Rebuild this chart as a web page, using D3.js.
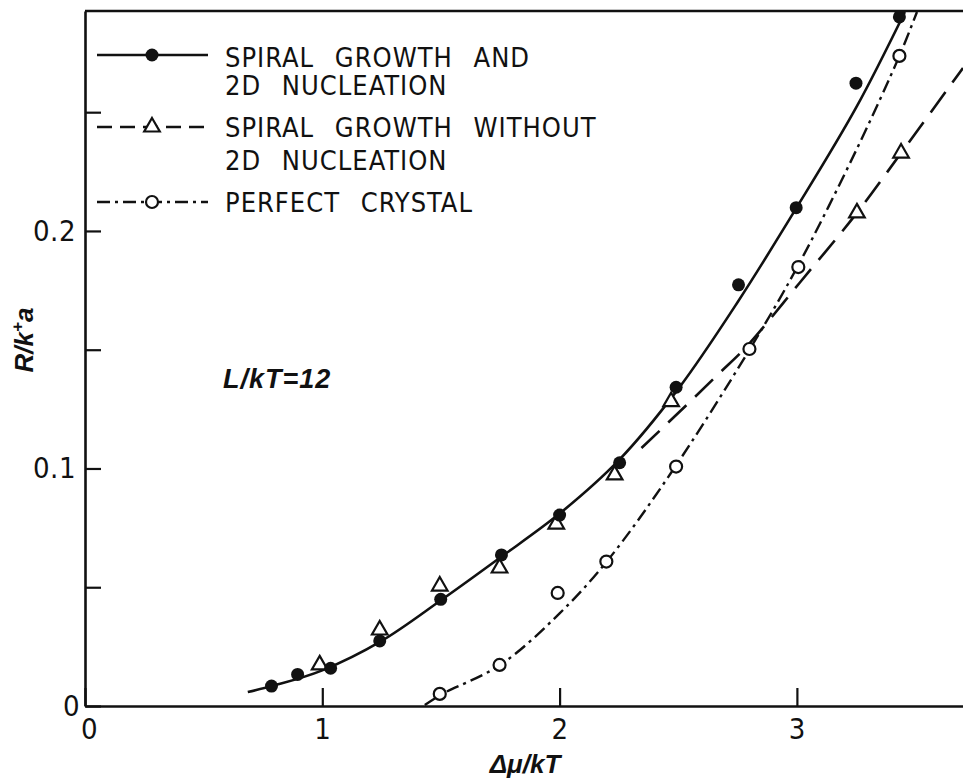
<!DOCTYPE html>
<html>
<head>
<meta charset="utf-8">
<script src="https://cdn.jsdelivr.net/npm/d3@7"></script>
<style>
  html, body { margin: 0; padding: 0; background: #fff; }
  svg { display: block; }
  .lbl { font-family: 'DejaVu Sans Condensed', 'Liberation Sans Narrow', 'Liberation Sans', sans-serif; fill: #111; }
  .ttl { font-family: 'Liberation Sans', Arial, sans-serif; font-style: italic; font-weight: bold; fill: #111; }
</style>
</head>
<body>
<div id="chart"></div>
<script>
// tick values
const xTicks = [0, 1, 2, 3];
const yTicks = [0, 0.05, 0.1, 0.15, 0.2, 0.25];
const yLabelled = [0, 0.1, 0.2];

// filled circles: spiral growth and 2D nucleation
const spiral2dX = [0.786, 0.896, 1.035, 1.242, 1.499, 1.755, 2.000, 2.253, 2.491, 2.754, 2.997, 3.249, 3.432];
const spiral2dY = [0.0084, 0.0133, 0.0159, 0.0274, 0.0449, 0.0636, 0.0804, 0.1024, 0.1342, 0.1773, 0.2098, 0.2622, 0.2901];

// triangles: spiral growth without 2D nucleation
const spiralX = [0.989, 1.242, 1.495, 1.747, 1.986, 2.232, 2.470, 3.253, 3.439];
const spiralY = [0.0173, 0.0320, 0.0505, 0.0581, 0.0766, 0.0973, 0.1281, 0.2076, 0.2328];

// open circles: perfect crystal
const perfectX = [1.495, 1.747, 1.992, 2.197, 2.491, 2.800, 3.006, 3.432];
const perfectY = [0.0051, 0.0173, 0.0476, 0.0608, 0.1008, 0.1503, 0.1848, 0.2737];

// theory curves
const solidX = [0.686, 0.8, 1.0, 1.25, 1.5, 1.75, 2.0, 2.25, 2.5, 2.75, 3.0, 3.25, 3.455];
const solidY = [0.0059, 0.0087, 0.0150, 0.0274, 0.0445, 0.0625, 0.0810, 0.1035, 0.1335, 0.1700, 0.2100, 0.2520, 0.2922];

const dashX = [2.345, 2.535, 2.674, 2.787, 3.011, 3.253, 3.439, 3.70];
const dashY = [0.1086, 0.1267, 0.1402, 0.1512, 0.1781, 0.2076, 0.2328, 0.2686];

const dotdashX = [1.432, 1.5, 1.75, 2.0, 2.2, 2.472, 2.8, 3.0, 3.25, 3.432, 3.506];
const dotdashY = [0.0004, 0.0048, 0.0173, 0.0390, 0.0610, 0.0985, 0.1500, 0.1845, 0.2340, 0.2737, 0.2922];

const legendRows = [
  ["SPIRAL GROWTH AND", "2D NUCLEATION"],
  ["SPIRAL GROWTH WITHOUT", "2D NUCLEATION"],
  ["PERFECT CRYSTAL"]
];

const pts = (xs, ys) => xs.map((x, i) => ({ x: x, y: ys[i] }));

const W = 963, H = 781;
const svg = d3.select("#chart").append("svg")
  .attr("width", W)
  .attr("height", H);

const x = d3.scaleLinear().domain([0, 3.7]).range([85, 963]);
const y = d3.scaleLinear().domain([0, 0.2926]).range([706, 11]);

svg.append("clipPath").attr("id", "plotClip")
  .append("rect")
  .attr("x", 84).attr("y", 11)
  .attr("width", 879).attr("height", 696);

// axes
const xAxis = svg.append("g")
  .attr("transform", "translate(0," + y(0) + ")")
  .call(d3.axisBottom(x).tickValues(xTicks).tickSizeInner(-18).tickSizeOuter(0).tickPadding(12).tickFormat(d3.format("d")));

const yAxis = svg.append("g")
  .attr("transform", "translate(" + x(0) + ",0)")
  .call(d3.axisLeft(y).tickValues(yTicks).tickSizeInner(-16).tickSizeOuter(0).tickPadding(9)
    .tickFormat(d => yLabelled.indexOf(d) >= 0 ? (d === 0 ? "0" : d3.format(".1f")(d)) : ""));

[xAxis, yAxis].forEach(g => {
  g.select(".domain").attr("stroke", "#111").attr("stroke-width", 2.6);
  g.selectAll(".tick line").attr("stroke", "#111").attr("stroke-width", 2.2);
  g.selectAll(".tick text").attr("class", "lbl").attr("font-size", 29).attr("letter-spacing", 0.5).attr("fill", "#111");
});
xAxis.selectAll(".tick text").filter(d => d === 0).attr("dx", 4);
yAxis.selectAll(".tick text").filter(d => d === 0).attr("dx", 4);

// top frame
svg.append("line")
  .attr("x1", x(0)).attr("x2", x(3.7))
  .attr("y1", y(0.2926)).attr("y2", y(0.2926))
  .attr("stroke", "#111").attr("stroke-width", 2.4);

// curves
const line = d3.line()
  .x(d => x(d.x))
  .y(d => y(d.y))
  .curve(d3.curveCatmullRom.alpha(0.5));

const plot = svg.append("g").attr("clip-path", "url(#plotClip)");

plot.append("path")
  .attr("d", line(pts(solidX, solidY)))
  .attr("fill", "none").attr("stroke", "#111").attr("stroke-width", 2.6);

plot.append("path")
  .attr("d", line(pts(dashX, dashY)))
  .attr("fill", "none").attr("stroke", "#111").attr("stroke-width", 2.6)
  .attr("stroke-dasharray", "25,12");

plot.append("path")
  .attr("d", line(pts(dotdashX, dotdashY)))
  .attr("fill", "none").attr("stroke", "#111").attr("stroke-width", 2.4)
  .attr("stroke-dasharray", "13,5,3,5");

// markers
const tri = d3.symbol().type(d3.symbolTriangle).size(105);

plot.selectAll(".tri").data(pts(spiralX, spiralY)).enter()
  .append("path").attr("class", "tri")
  .attr("d", tri)
  .attr("transform", d => "translate(" + x(d.x) + "," + y(d.y) + ")")
  .attr("fill", "#fff").attr("stroke", "#111").attr("stroke-width", 2.2);

plot.selectAll(".open").data(pts(perfectX, perfectY)).enter()
  .append("circle").attr("class", "open")
  .attr("cx", d => x(d.x)).attr("cy", d => y(d.y)).attr("r", 6)
  .attr("fill", "#fff").attr("stroke", "#111").attr("stroke-width", 2.2);

plot.selectAll(".dot").data(pts(spiral2dX, spiral2dY)).enter()
  .append("circle").attr("class", "dot")
  .attr("cx", d => x(d.x)).attr("cy", d => y(d.y)).attr("r", 6.5)
  .attr("fill", "#111");

// legend
const legY = [55, 127, 202];
const legText = [[67, 95], [137, 170], [212]];
const dashes = [null, "15,8", "13,5,3,5"];

legendRows.forEach((rows, i) => {
  const g = svg.append("g");
  g.append("line")
    .attr("x1", 97).attr("x2", 208)
    .attr("y1", legY[i]).attr("y2", legY[i])
    .attr("stroke", "#111").attr("stroke-width", 2.6)
    .attr("stroke-dasharray", dashes[i]);
  if (i === 0) {
    g.append("circle").attr("cx", 152).attr("cy", legY[i]).attr("r", 6.5).attr("fill", "#111");
  } else if (i === 1) {
    g.append("path").attr("d", tri).attr("transform", "translate(152," + legY[i] + ")")
      .attr("fill", "#fff").attr("stroke", "#111").attr("stroke-width", 2.2);
  } else {
    g.append("circle").attr("cx", 152).attr("cy", legY[i]).attr("r", 6)
      .attr("fill", "#fff").attr("stroke", "#111").attr("stroke-width", 2.2);
  }
  rows.forEach((t, j) => {
    g.append("text").attr("class", "lbl")
      .attr("x", 225).attr("y", legText[i][j])
      .attr("font-size", 27)
      .attr("letter-spacing", 1)
      .attr("word-spacing", 12)
      .text(t);
  });
});

// annotation + axis titles
svg.append("text").attr("class", "ttl")
  .attr("x", 223).attr("y", 388)
  .attr("font-size", 27).attr("letter-spacing", 1)
  .text("L/kT=12");

svg.append("text").attr("class", "ttl")
  .attr("x", 525).attr("y", 773)
  .attr("text-anchor", "middle")
  .attr("font-size", 26)
  .text("Δμ/kT");

const yt = svg.append("text").attr("class", "ttl")
  .attr("transform", "translate(33,340) rotate(-90)")
  .attr("text-anchor", "middle")
  .attr("font-size", 26);
yt.append("tspan").text("R/k");
yt.append("tspan").attr("font-size", 17).attr("dy", -10).text("+");
yt.append("tspan").attr("dy", 10).text("a");
</script>
</body>
</html>
